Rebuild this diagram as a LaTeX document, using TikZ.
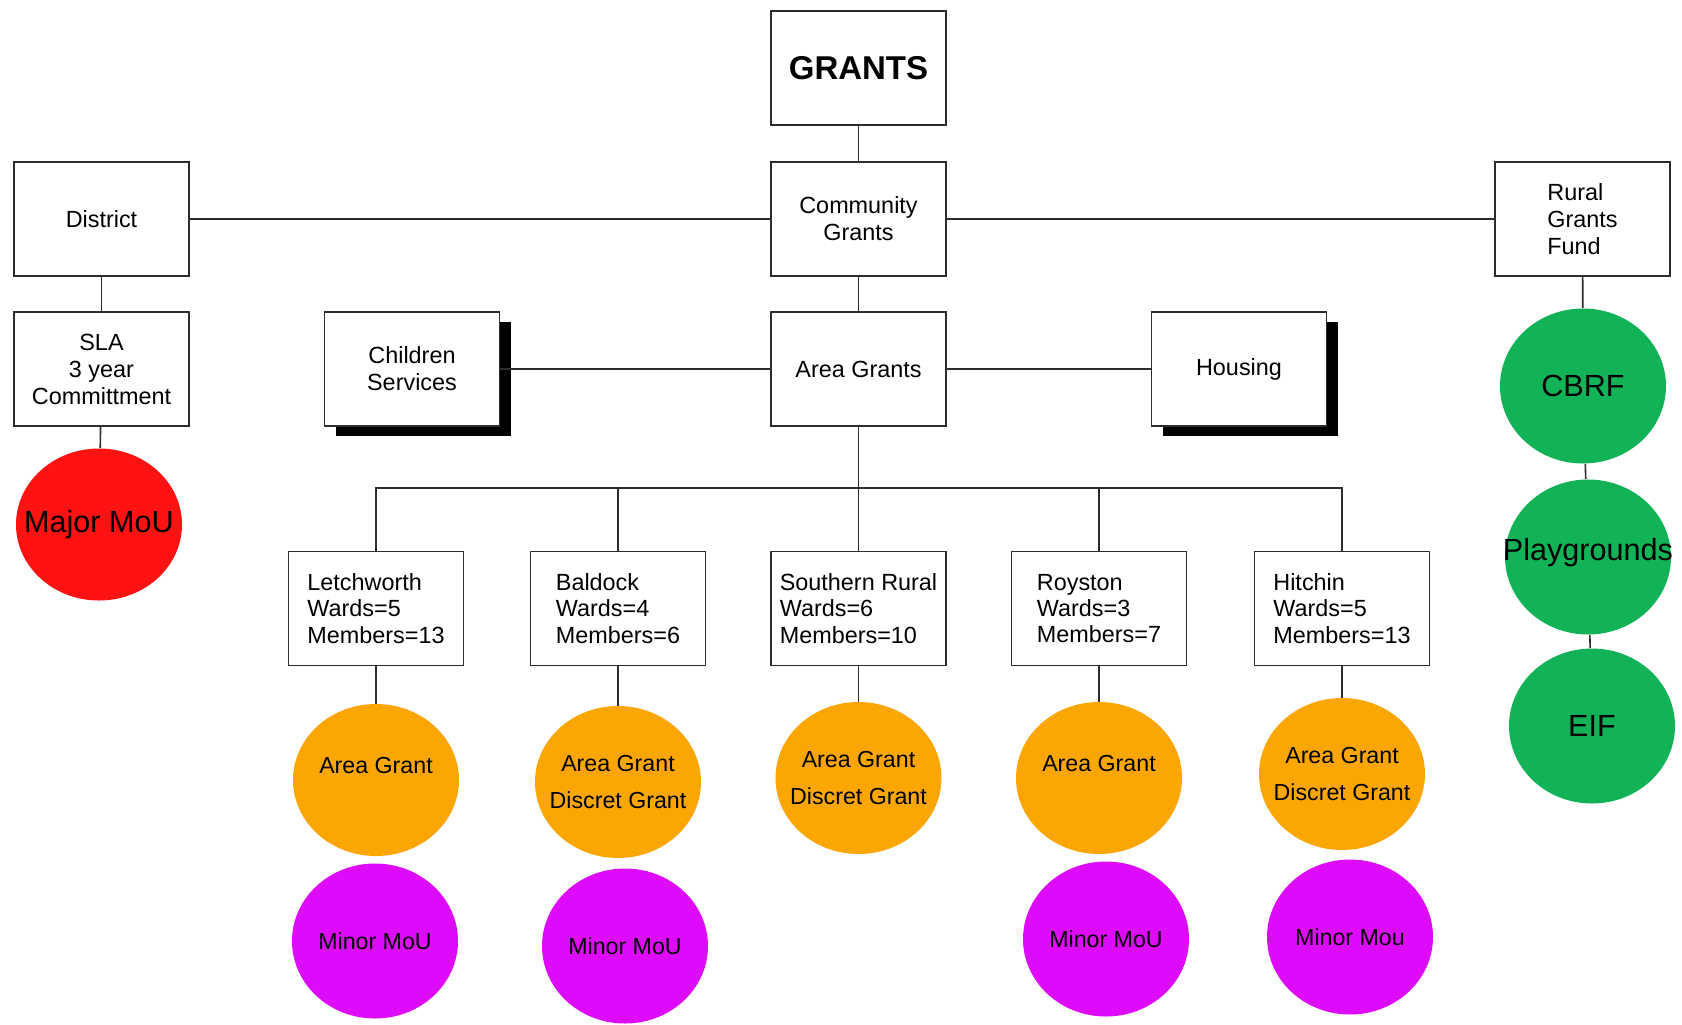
\documentclass[tikz,border=0pt]{standalone}
\usepackage{fontspec}
\setmainfont{Liberation Sans}
\usetikzlibrary{shapes.geometric,shadows}
\definecolor{mouRed}{RGB}{255,18,18}
\definecolor{grantOrange}{RGB}{252,166,4}
\definecolor{minorPink}{RGB}{222,10,250}
\definecolor{ruralGreen}{RGB}{18,178,86}
\definecolor{lineGrey}{RGB}{45,45,45}
\begin{document}
\begin{tikzpicture}[x=0.5pt,y=-0.5pt,
  box/.style={draw=lineGrey, line width=0.8pt, fill=white, minimum width=87.5pt, minimum height=57pt, inner sep=1pt, align=center, font=\fontsize{11.7}{13.5}\selectfont},
  shadowbox/.style={box, drop shadow={shadow xshift=5.5pt, shadow yshift=-5pt, fill=black, opacity=1}},
  wardbox/.style={box, align=left, font=\fontsize{11.7}{13.2}\selectfont},
  bubble/.style={ellipse, minimum width=83pt, minimum height=76pt, inner sep=0pt},
  smalltext/.style={align=center, font=\fontsize{11.6}{18.3}\selectfont},
  bigtext/.style={font=\fontsize{15.3}{18}\selectfont},
  link/.style={draw=lineGrey, line width=0.8pt}]
\useasboundingbox (0,0) rectangle (1682,1024);
% top of the tree
\node[box, font=\fontsize{16.5}{18}\selectfont\bfseries] (grants) at (858.5,68) {GRANTS};
\node[box] (comm) at (858.5,219) {Community\\Grants};
\node[box] (area) at (858.5,369) {Area Grants};
\node[box] (dist) at (101.5,219) {District};
\node[box] (sla) at (101.5,369) {SLA\\3 year\\Committment};
\node[box, align=left] (rural) at (1582.5,219) {Rural\\Grants\\Fund};
\node[shadowbox] (child) at (412,369) {Children\\Services};
\node[shadowbox] (house) at (1239,369) {Housing};
\draw[link](grants) -- (comm);
\draw[link](comm) -- (area);
\draw[link](dist) -- (comm);
\draw[link](comm) -- (rural);
\draw[link](dist) -- (sla);
\draw[link](child) -- (area);
\draw[link](area) -- (house);
% ward areas
\coordinate (bus) at (858.5,488);
\node[wardbox] (letch) at (376,608.5) {Letchworth\\Wards=5\\Members=13};
\node[wardbox] (bald) at (618,608.5) {Baldock\\Wards=4\\Members=6};
\node[wardbox] (south) at (858.5,608.5) {Southern Rural\\Wards=6\\Members=10};
\node[wardbox] (roy) at (1099,608.5) {Royston\\Wards=3\\Members=7};
\node[wardbox] (hitch) at (1342,608.5) {Hitchin\\Wards=5\\Members=13};
\draw[link](area) -- (bus);
\draw[link](letch) |- (bus);
\draw[link](bald) |- (bus);
\draw[link](south) -- (bus);
\draw[link](roy) |- (bus);
\draw[link](hitch) |- (bus);
% area grant circles
\node[bubble, fill=grantOrange, label={[smalltext, yshift=7.5pt]center:Area Grant}] (letchag) at (376,780){};
\node[bubble, fill=grantOrange, label={[smalltext]center:Area Grant\\Discret Grant}] (baldag) at (618,782){};
\node[bubble, fill=grantOrange, label={[smalltext]center:Area Grant\\Discret Grant}] (southag) at (858.5,778){};
\node[bubble, fill=grantOrange, label={[smalltext, yshift=7.5pt]center:Area Grant}] (royag) at (1099,778){};
\node[bubble, fill=grantOrange, label={[smalltext]center:Area Grant\\Discret Grant}] (hitchag) at (1342,774){};
\draw[link](letch) -- (letchag);
\draw[link](bald) -- (baldag);
\draw[link](south) -- (southag);
\draw[link](roy) -- (royag);
\draw[link](hitch) -- (hitchag);
% minor mou circles
\node[bubble, fill=minorPink, minimum height=77.5pt, label={[smalltext]center:Minor MoU}] (letchmou) at (375,941){};
\node[bubble, fill=minorPink, minimum height=77.5pt, label={[smalltext]center:Minor MoU}] (baldmou) at (625,946){};
\node[bubble, fill=minorPink, minimum height=77.5pt, label={[smalltext]center:Minor MoU}] (roymou) at (1106,939){};
\node[bubble, fill=minorPink, minimum height=77.5pt, label={[smalltext]center:Minor Mou}] (hitchmou) at (1350,937){};
% district and rural circles
\node[bubble, fill=mouRed, label={[bigtext]center:Major MoU}] (major) at (99,524.5){};
\draw[link](sla) -- (major);
\node[bubble, fill=ruralGreen, minimum height=77.5pt, label={[bigtext]center:CBRF}] (cbrf) at (1583,386){};
\node[bubble, fill=ruralGreen, minimum height=77.5pt, label={[bigtext, yshift=2pt]center:Playgrounds}] (play) at (1588,557){};
\node[bubble, fill=ruralGreen, minimum height=77.5pt, label={[bigtext]center:EIF}] (eif) at (1592,726){};
\draw[link](rural) -- (cbrf);
\draw[link](cbrf) -- (play);
\draw[link](play) -- (eif);
\end{tikzpicture}
\end{document}
